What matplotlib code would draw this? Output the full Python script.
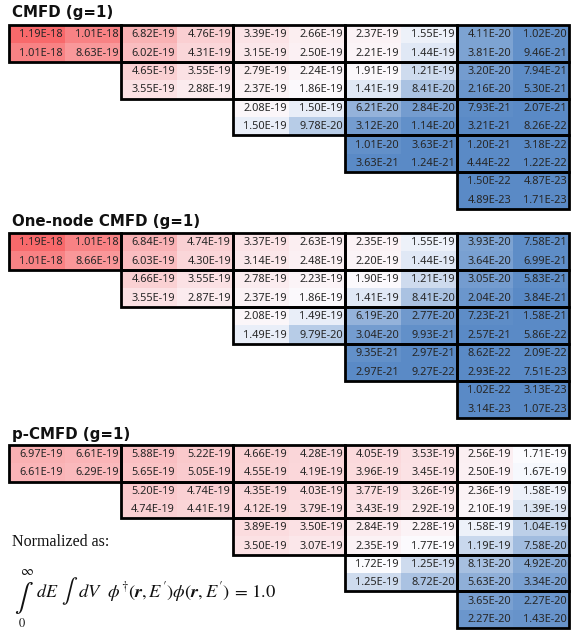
import io
import numpy as np
import matplotlib
matplotlib.use('Agg')
import matplotlib.pyplot as plt
from matplotlib.colors import LinearSegmentedColormap, Normalize
from matplotlib.patches import Rectangle

titles = ["CMFD (g=1)", "One-node CMFD (g=1)", "p-CMFD (g=1)"]

cmfd_rows = [
    [1.19e-18, 1.01e-18, 6.82e-19, 4.76e-19, 3.39e-19, 2.66e-19, 2.37e-19, 1.55e-19, 4.11e-20, 1.02e-20],
    [1.01e-18, 8.63e-19, 6.02e-19, 4.31e-19, 3.15e-19, 2.50e-19, 2.21e-19, 1.44e-19, 3.81e-20, 9.46e-21],
    [4.65e-19, 3.55e-19, 2.79e-19, 2.24e-19, 1.91e-19, 1.21e-19, 3.20e-20, 7.94e-21],
    [3.55e-19, 2.88e-19, 2.37e-19, 1.86e-19, 1.41e-19, 8.41e-20, 2.16e-20, 5.30e-21],
    [2.08e-19, 1.50e-19, 6.21e-20, 2.84e-20, 7.93e-21, 2.07e-21],
    [1.50e-19, 9.78e-20, 3.12e-20, 1.14e-20, 3.21e-21, 8.26e-22],
    [1.01e-20, 3.63e-21, 1.20e-21, 3.18e-22],
    [3.63e-21, 1.24e-21, 4.44e-22, 1.22e-22],
    [1.50e-22, 4.87e-23],
    [4.89e-23, 1.71e-23],
]
onenode_rows = [
    [1.19e-18, 1.01e-18, 6.84e-19, 4.74e-19, 3.37e-19, 2.63e-19, 2.35e-19, 1.55e-19, 3.93e-20, 7.58e-21],
    [1.01e-18, 8.66e-19, 6.03e-19, 4.30e-19, 3.14e-19, 2.48e-19, 2.20e-19, 1.44e-19, 3.64e-20, 6.99e-21],
    [4.66e-19, 3.55e-19, 2.78e-19, 2.23e-19, 1.90e-19, 1.21e-19, 3.05e-20, 5.83e-21],
    [3.55e-19, 2.87e-19, 2.37e-19, 1.86e-19, 1.41e-19, 8.41e-20, 2.04e-20, 3.84e-21],
    [2.08e-19, 1.49e-19, 6.19e-20, 2.77e-20, 7.23e-21, 1.58e-21],
    [1.49e-19, 9.79e-20, 3.04e-20, 9.93e-21, 2.57e-21, 5.86e-22],
    [9.35e-21, 2.97e-21, 8.62e-22, 2.09e-22],
    [2.97e-21, 9.27e-22, 2.93e-22, 7.51e-23],
    [1.02e-22, 3.13e-23],
    [3.14e-23, 1.07e-23],
]
pcmfd_rows = [
    [6.97e-19, 6.61e-19, 5.88e-19, 5.22e-19, 4.66e-19, 4.28e-19, 4.05e-19, 3.53e-19, 2.56e-19, 1.71e-19],
    [6.61e-19, 6.29e-19, 5.65e-19, 5.05e-19, 4.55e-19, 4.19e-19, 3.96e-19, 3.45e-19, 2.50e-19, 1.67e-19],
    [5.20e-19, 4.74e-19, 4.35e-19, 4.03e-19, 3.77e-19, 3.26e-19, 2.36e-19, 1.58e-19],
    [4.74e-19, 4.41e-19, 4.12e-19, 3.79e-19, 3.43e-19, 2.92e-19, 2.10e-19, 1.39e-19],
    [3.89e-19, 3.50e-19, 2.84e-19, 2.28e-19, 1.58e-19, 1.04e-19],
    [3.50e-19, 3.07e-19, 2.35e-19, 1.77e-19, 1.19e-19, 7.58e-20],
    [1.72e-19, 1.25e-19, 8.13e-20, 4.92e-20],
    [1.25e-19, 8.72e-20, 5.63e-20, 3.34e-20],
    [3.65e-20, 2.27e-20],
    [2.27e-20, 1.43e-20],
]
tables = [cmfd_rows, onenode_rows, pcmfd_rows]

W, H = 574, 632
fig = plt.figure(figsize=(W / 100, H / 100), dpi=100)


def fx(x):
    return x / W


def fy(y):
    return 1 - y / H


# Excel-like 3-colour scale (min blue, 50th percentile white, max red), shared
allv = np.array([v for t in tables for row in t for v in row])
vmin, vmax, vmid = allv.min(), allv.max(), np.percentile(allv, 50)
mfrac = (vmid - vmin) / (vmax - vmin)
cmap = LinearSegmentedColormap.from_list(
    'excel3', [(0.0, '#5A8AC6'), (mfrac, '#FCFCFF'), (1.0, '#F8696B')])
norm = Normalize(vmin=vmin, vmax=vmax)

boxes = [(9, 25, 569, 209), (9, 233, 569, 418), (9, 445, 569, 628)]
title_base = [17.5, 226, 438.5]
cell_font = 'Noto Sans'

for t, rows in enumerate(tables):
    x0, y0, x1, y1 = boxes[t]
    ax = fig.add_axes([fx(x0), fy(y1), (x1 - x0) / W, (y1 - y0) / H])
    n = len(rows)
    M = np.full((n, n), np.nan)
    for r, row in enumerate(rows):
        c0 = n - len(row)
        for j, v in enumerate(row):
            M[r, c0 + j] = v
    ax.imshow(M, cmap=cmap, norm=norm, extent=(0, n, n, 0), aspect='auto',
              interpolation='nearest')
    for r in range(n):
        for c in range(n):
            if not np.isnan(M[r, c]):
                ax.text(c + 0.965, r + 0.53, f"{M[r, c]:.2E}", ha='right',
                        va='center', fontsize=7.9, family=cell_font,
                        color='#262626')
    nb = n // 2
    for br in range(nb):
        for bc in range(br, nb):
            ax.add_patch(Rectangle((2 * bc, 2 * br), 2, 2, fill=False,
                                   lw=2.0, ec='black', clip_on=False, zorder=5))
    ax.set_xlim(0, n)
    ax.set_ylim(n, 0)
    ax.axis('off')
    fig.text(fx(12), fy(title_base[t]), titles[t], fontsize=10.8,
             fontweight='bold', family='DejaVu Sans', ha='left', va='baseline',
             color='#111111')

# Normalisation note
fig.text(fx(12), fy(546), "Normalized as:", family='Liberation Serif',
         fontsize=11.5, ha='left', va='baseline', color='#111111')

plt.rcParams['mathtext.fontset'] = 'stix'


def ok(s):
    try:
        from matplotlib.mathtext import math_to_image
        math_to_image(s, io.BytesIO(), format='png')
        return True
    except Exception:
        return False


rvec = r'\boldsymbol{r}' if ok(r'$\boldsymbol{r}$') else r'\mathbf{r}'

fig.text(fx(14), fy(598), r'$\int$', fontsize=20, ha='left', va='center',
         color='#111111')
fig.text(fx(27), fy(571), r'$\infty$', fontsize=10, ha='center',
         va='center', color='#111111')
fig.text(fx(22), fy(624), '0', family='STIXGeneral', fontsize=9,
         ha='center', va='center', color='#111111')
fig.text(fx(36), fy(597), r'$dE$', fontsize=13, ha='left', va='baseline',
         color='#111111')
fig.text(fx(61), fy(591), r'$\int$', fontsize=17, ha='left', va='center',
         color='#111111')
fig.text(fx(78), fy(597),
         r"$dV\ \ \phi^{\dagger}(" + rvec + r",E')\phi(" + rvec +
         r",E')\,=\,1.0$",
         fontsize=13.3, ha='left', va='baseline', color='#111111')

fig.savefig('out.png', dpi=100)
